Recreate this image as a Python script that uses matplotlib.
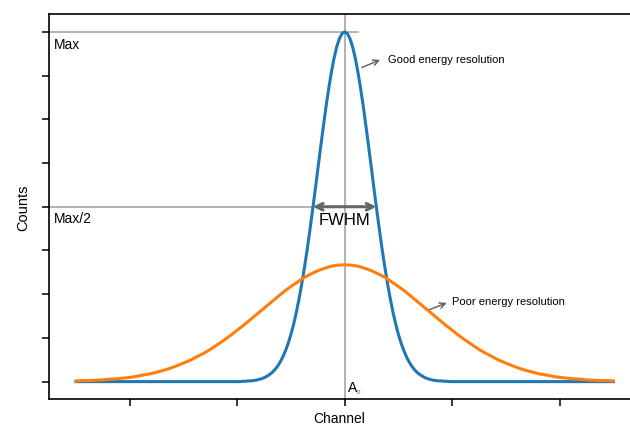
import matplotlib
matplotlib.use("Agg")
import matplotlib.pyplot as plt
import numpy as np

plt.rcParams["font.family"] = ["Liberation Sans", "DejaVu Sans"]

# values (channel offset from A0, counts relative to Max)
# narrow peak, sampled every 0.025 channel from 0 outwards (symmetric)
good_half = [1.000, 0.995, 0.980, 0.956, 0.923, 0.882, 0.835, 0.783, 0.726,
             0.667, 0.607, 0.546, 0.487, 0.430, 0.375, 0.325, 0.278, 0.236,
             0.198, 0.164, 0.135, 0.110, 0.089, 0.071, 0.056, 0.044, 0.034,
             0.026, 0.020, 0.015, 0.011, 0.008, 0.006, 0.004, 0.003, 0.002,
             0.002, 0.001, 0.001, 0.000]
# wide peak, sampled every 0.0625 channel from 0 out to 2.5 (symmetric)
poor_half = [0.334, 0.333, 0.330, 0.324, 0.317, 0.308, 0.298, 0.285, 0.272,
             0.258, 0.242, 0.226, 0.210, 0.194, 0.178, 0.162, 0.147, 0.132,
             0.118, 0.105, 0.092, 0.081, 0.071, 0.061, 0.053, 0.045, 0.038,
             0.032, 0.027, 0.022, 0.019, 0.015, 0.012, 0.010, 0.008, 0.007,
             0.005, 0.004, 0.003, 0.003, 0.002]
x_ticks = [-2, -1, 0, 1, 2]
y_ticks = [0, 0.125, 0.25, 0.375, 0.5, 0.625, 0.75, 0.875, 1.0]
fwhm_half = 0.295

good_steps = np.arange(len(good_half)) * 0.025
good_x = np.concatenate([[-2.5], -good_steps[::-1], good_steps[1:], [2.5]])
good_y = np.concatenate([[0.0], good_half[::-1], good_half[1:], [0.0]])

poor_steps = np.arange(len(poor_half)) * 0.0625
poor_x = np.concatenate([-poor_steps[::-1], poor_steps[1:]])
poor_y = np.concatenate([poor_half[::-1], poor_half[1:]])

fig = plt.figure(figsize=(6.3, 4.27), dpi=100)
ax = fig.add_axes([0.078, 0.063, 0.922, 0.901])

grey = "#a6a6a6"
dark = "#666666"

ax.axvline(0, color=grey, lw=1.2, zorder=1)
ax.plot([-2.75, 0.12], [1, 1], color=grey, lw=1.2, zorder=1)
ax.plot([-2.75, 0], [0.5, 0.5], color=grey, lw=1.2, zorder=1)

ax.plot(good_x, good_y, color="#1f77b4", lw=2.2, zorder=3)
ax.plot(poor_x, poor_y, color="#ff7f0e", lw=2.2, zorder=3)

ax.annotate("", xy=(-fwhm_half, 0.5), xytext=(fwhm_half, 0.5),
            arrowprops=dict(arrowstyle="<->", color=dark, lw=2.2,
                            mutation_scale=12, shrinkA=0, shrinkB=0),
            zorder=4)
ax.text(0, 0.463, "FWHM", fontsize=12, ha="center", va="center")

ax.text(-2.71, 0.985, "Max", fontsize=10, va="top")
ax.text(-2.71, 0.487, "Max/2", fontsize=10, va="top")

ax.annotate("", xy=(0.33, 0.92), xytext=(0.16, 0.898),
            arrowprops=dict(arrowstyle="->", color=dark, lw=1.1,
                            shrinkA=0, shrinkB=0))
ax.text(0.405, 0.923, "Good energy resolution", fontsize=8, va="center")

ax.annotate("", xy=(0.95, 0.225), xytext=(0.79, 0.206),
            arrowprops=dict(arrowstyle="->", color=dark, lw=1.1,
                            shrinkA=0, shrinkB=0))
ax.text(1.0, 0.231, "Poor energy resolution", fontsize=8, va="center")

ax.text(0.03, -0.036, "A", fontsize=10, va="bottom")
ax.text(0.115, -0.036, "0", fontsize=4.5, va="bottom", color="#555555")

ax.set_xlim(-2.75, 2.655)
ax.set_ylim(-0.05, 1.05)
ax.set_xticks(x_ticks)
ax.set_yticks(y_ticks)
ax.set_xticklabels([])
ax.set_yticklabels([])
ax.tick_params(length=5, width=1.1)
ax.spines["right"].set_visible(False)
for s in ["left", "top", "bottom"]:
    ax.spines[s].set_linewidth(1.2)

ax.set_xlabel("Channel", fontsize=10, labelpad=0)
ax.set_ylabel("Counts", fontsize=10.5, labelpad=5)

fig.savefig("out.png", dpi=100)
